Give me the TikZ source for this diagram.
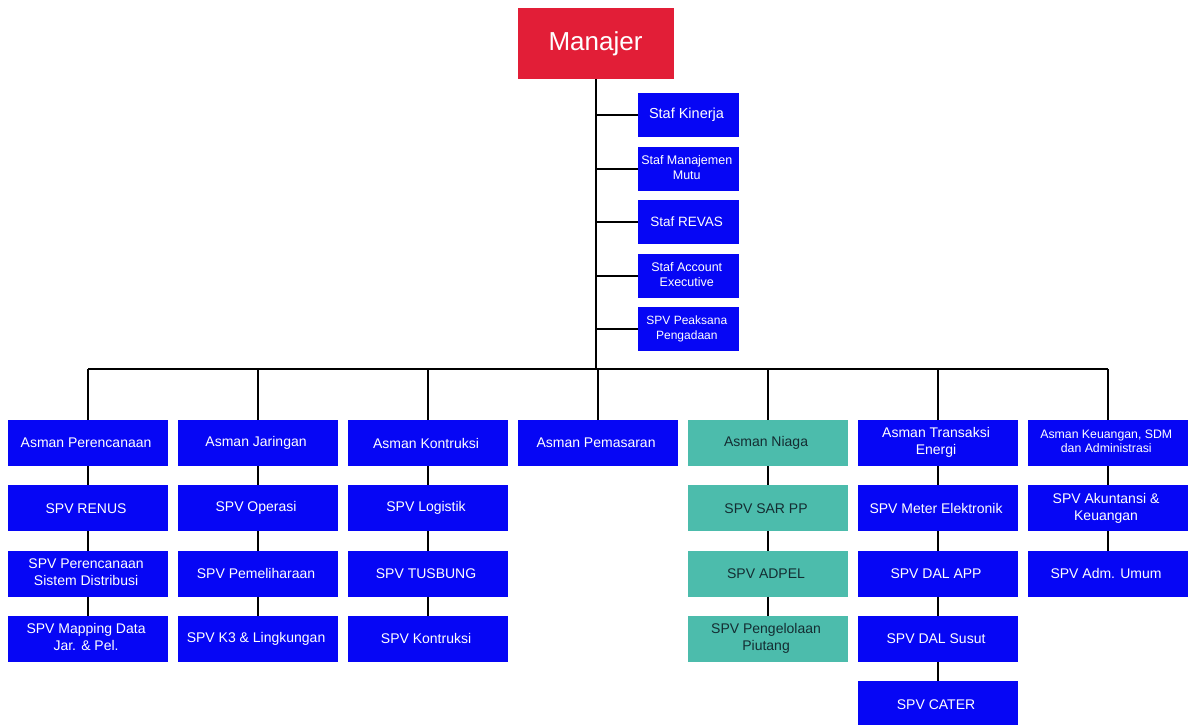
\documentclass[tikz,border=0pt]{standalone}
\usepackage{fontspec}
\setmainfont{Liberation Sans}
\usetikzlibrary{matrix}

\definecolor{unitblue}{RGB}{6,6,245}
\definecolor{niagateal}{RGB}{76,188,172}
\definecolor{niagatext}{RGB}{20,45,50}
\definecolor{mgrred}{RGB}{226,30,55}

\newcommand\twoline[2]{\begin{tabular}{@{}c@{}}#1\\#2\end{tabular}}

\tikzset{
  unit/.style={fill=unitblue, text=white, minimum width=160pt, minimum height=46pt,
    inner sep=2pt, align=center, anchor=center, font=\fontsize{14}{17}\selectfont},
  niaga/.style={fill=niagateal, text=niagatext},
  staf/.style={unit, minimum width=101pt, minimum height=44pt, font=\fontsize{12.5}{15}\selectfont},
  link/.style={draw=black, line width=2pt},
}

\begin{document}
\begin{tikzpicture}[x=1pt,y=-1pt]
  \useasboundingbox (0,0) rectangle (1191,725);

  \node[unit, fill=mgrred, minimum width=156pt, minimum height=71pt,
    font=\fontsize{26}{31}\selectfont] (mgr) at (595.5,43.5) {Manajer};

  \matrix (s) [matrix of nodes, nodes={staf}, row sep=9.5pt, inner sep=0pt, outer sep=0pt] at (688.5,222) {
    |[font=\fontsize{14.5}{17}\selectfont]| Staf Kinerja \\
    \twoline{Staf Manajemen}{Mutu} \\
    |[font=\fontsize{13.5}{16}\selectfont]| Staf REVAS \\
    \twoline{Staf Account}{Executive} \\
    |[font=\fontsize{12}{15}\selectfont]| \twoline{SPV Peaksana}{Pengadaan} \\
  };

  \matrix (m) [matrix of nodes, nodes={unit}, row sep=19.3pt, column sep=10pt, inner sep=0pt, outer sep=0pt] at (598,573.6) {
    Asman Perencanaan & Asman Jaringan & Asman Kontruksi & Asman Pemasaran & |[niaga]| Asman Niaga & \twoline{Asman Transaksi}{Energi} & |[font=\fontsize{12.3}{14}\selectfont]| \twoline{Asman Keuangan, SDM}{dan Administrasi} \\
    SPV RENUS & SPV Operasi & SPV Logistik & & |[niaga]| SPV SAR PP & SPV Meter Elektronik & \twoline{SPV Akuntansi \&}{Keuangan} \\
    \twoline{SPV Perencanaan}{Sistem Distribusi} & SPV Pemeliharaan & SPV TUSBUNG & & |[niaga]| SPV ADPEL & SPV DAL APP & SPV Adm. Umum \\
    \twoline{SPV Mapping Data}{Jar. \& Pel.} & SPV K3 \& Lingkungan & SPV Kontruksi & & |[niaga]| \twoline{SPV Pengelolaan}{Piutang} & SPV DAL Susut & \\
    & & & & & SPV CATER & \\
  };

  % trunk, staff and bus
  \coordinate (bus) at (595.5,369);
  \draw[link] (mgr) -- (bus);
  \foreach \i in {1,...,5}
    \draw[link] (bus |- s-\i-1.west) -- (s-\i-1.west);
  \draw[link] (m-1-1.north |- bus) -- (m-1-7.north |- bus);
  \foreach \c in {1,...,7}
    \draw[link] (m-1-\c.north |- bus) -- (m-1-\c.north);

  % columns
  \foreach \c/\n in {1/4,2/4,3/4,5/4,6/5,7/3}
    \foreach \r [remember=\r as \q (initially 1)] in {2,...,\n}
      \draw[link] (m-\q-\c.south) -- (m-\r-\c.north);
\end{tikzpicture}
\end{document}
